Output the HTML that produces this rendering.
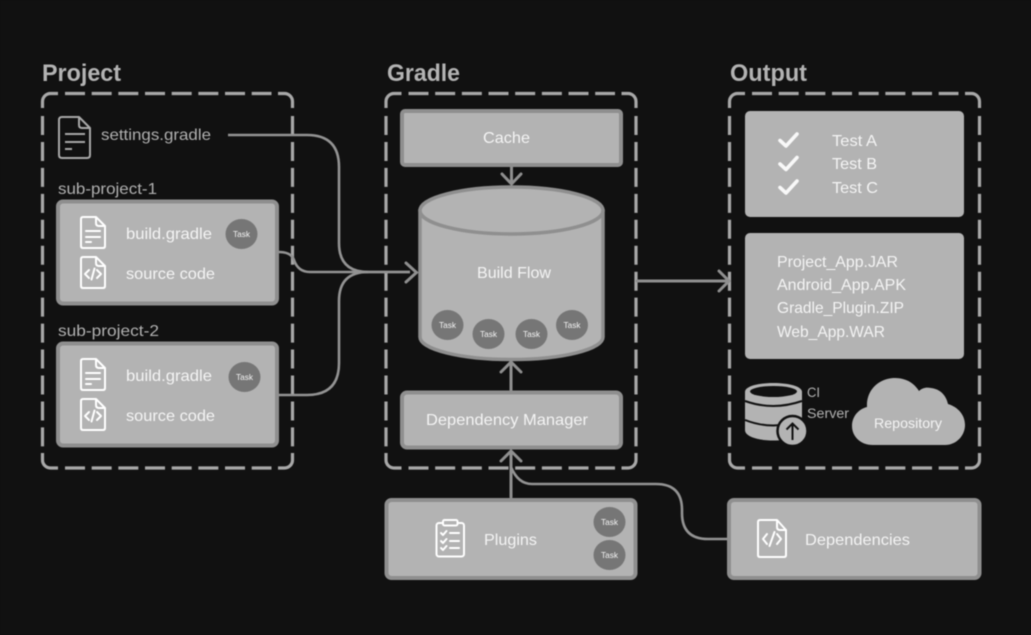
<!DOCTYPE html>
<html><head><meta charset="utf-8"><style>
html,body{margin:0;padding:0;background:#111}
svg{display:block;filter:blur(.4px)}
text{font-family:"Liberation Sans",sans-serif;font-size:16px;fill:#f4f4f4}
.g{fill:#b0b0b0}
.h{font-size:24px;font-weight:700;fill:#b3b3b3}
.t{font-size:8.5px;fill:#f4f4f4;text-anchor:middle}
.s{fill:none;stroke:#a8a8a8;stroke-width:3.2}
.dh{fill:none;stroke:#a8a8a8;stroke-width:3.2;stroke-dasharray:20 6.67}
.dv{fill:none;stroke:#a8a8a8;stroke-width:3.2;stroke-dasharray:19 6.95}
.b{fill:#b3b3b3;stroke:#8f8f8f;stroke-width:4}
.l{fill:none;stroke:#939393;stroke-width:2.6}
.a{fill:none;stroke:#8f8f8f;stroke-width:3;stroke-linecap:round}
.w{fill:none;stroke:#fff;stroke-width:2;stroke-linejoin:round;stroke-linecap:round}
.c{fill:#767676}
</style></head><body>
<svg width="1031" height="635" viewBox="0 0 1031 635" xmlns="http://www.w3.org/2000/svg">
<defs>
<g id="frame">
<path class="s" d="M0 108V101.500A8 8 0 0 1 8 93.500H15.500M235.500 93.500H242A8 8 0 0 1 250 101.500V108M0 453V460A8 8 0 0 0 8 468H15.500M235.500 468H242A8 8 0 0 0 250 460V453"/>
<path class="dh" d="M22.500 93.500H229M22.500 468H229"/>
<path class="dv" d="M0 116V447M250 116V447"/>
</g>
</defs>
<rect width="1031" height="635" fill="#111"/>

<text class="h" x="42" y="81" textLength="79" lengthAdjust="spacingAndGlyphs">Project</text>
<text class="h" x="387" y="81" textLength="73" lengthAdjust="spacingAndGlyphs">Gradle</text>
<text class="h" x="730" y="81" textLength="77" lengthAdjust="spacingAndGlyphs">Output</text>

<use href="#frame" x="42.500" y="0"/>
<use href="#frame" x="386" y="0"/>
<use href="#frame" x="729.500" y="0"/>

<!-- connectors -->
<path class="l" d="M228 135H307Q339 135 339 167V243Q339 272 368 272H410"/>
<path class="l" d="M279 252Q291 252 294 260Q298 272 310 272H410"/>
<path class="l" d="M279 395H307Q339 395 339 363V301Q339 272 368 272"/>
<path class="a" d="M406 263L416.500 272.500L406 282"/>
<path class="a" d="M637 281H728M719 271L729 281L719 291"/>
<path class="a" d="M511.500 167V183M502 174L511.500 184L521 174"/>
<path class="a" d="M511 390V364M501 372L511 362L521 372"/>
<path class="a" d="M511 497V453M501 461L511 451L521 461"/>
<path class="l" d="M727 539H708Q682 539 682 513V510Q682 484 656 484H532Q518 484 511 467"/>

<!-- project -->
<g fill="none" stroke="#a8a8a8" stroke-width="2" stroke-linejoin="round">
<path d="M62 117H79L90 128V155Q90 158 87 158H62Q59 158 59 155V120Q59 117 62 117ZM79 117V125Q79 128 82 128H90"/>
<path d="M65 134H85M65 142H85M65 149H72"/>
</g>
<text class="g" x="101" y="140" textLength="110" lengthAdjust="spacingAndGlyphs">settings.gradle</text>
<text class="g" x="58" y="194" textLength="99" lengthAdjust="spacingAndGlyphs">sub-project-1</text>
<text class="g" x="58" y="336" textLength="101" lengthAdjust="spacingAndGlyphs">sub-project-2</text>

<rect class="b" x="58" y="201.500" width="219" height="102" rx="5"/>
<rect class="b" x="58" y="343.500" width="219" height="102" rx="5"/>

<g>
<path class="w" d="M83 217H96L105 226V246Q105 248 103 248H83Q81 248 81 246V219Q81 217 83 217ZM96 217V223Q96 226 99 226H105"/>
<path class="w" d="M86 231H100M86 237H100M86 242H91"/>
<path class="w" d="M83 257H96L105 266V286Q105 288 103 288H83Q81 288 81 286V259Q81 257 83 257ZM96 257V263Q96 266 99 266H105"/>
<path class="w" d="M89 270L85 274L89 278M97 270L101 274L97 278M94.500 268.500L91.500 279.500"/>
<text x="126" y="239" textLength="86" lengthAdjust="spacingAndGlyphs">build.gradle</text>
<text x="126" y="279" textLength="89" lengthAdjust="spacingAndGlyphs">source code</text>
</g>
<g>
<path class="w" d="M83 359H96L105 368V388Q105 390 103 390H83Q81 390 81 388V361Q81 359 83 359ZM96 359V365Q96 368 99 368H105"/>
<path class="w" d="M86 373H100M86 379H100M86 384H91"/>
<path class="w" d="M83 399H96L105 408V428Q105 430 103 430H83Q81 430 81 428V401Q81 399 83 399ZM96 399V405Q96 408 99 408H105"/>
<path class="w" d="M89 412L85 416L89 420M97 412L101 416L97 420M94.500 410.500L91.500 421.500"/>
<text x="126" y="381" textLength="86" lengthAdjust="spacingAndGlyphs">build.gradle</text>
<text x="126" y="421" textLength="89" lengthAdjust="spacingAndGlyphs">source code</text>
</g>

<ellipse class="c" cx="241.500" cy="234" rx="16" ry="15"/>
<text class="t" x="241.500" y="237" textLength="17" lengthAdjust="spacingAndGlyphs">Task</text>
<ellipse class="c" cx="244.500" cy="377" rx="16" ry="15"/>
<text class="t" x="244.500" y="380" textLength="17" lengthAdjust="spacingAndGlyphs">Task</text>

<!-- gradle -->
<rect class="b" x="402" y="111" width="219" height="54" rx="3"/>
<text x="483" y="143" textLength="47" lengthAdjust="spacingAndGlyphs">Cache</text>

<path fill="#b3b3b3" stroke="#8f8f8f" stroke-width="3.500" d="M420 211V337A91.500 22.500 0 0 0 603 337V211Z"/>
<ellipse cx="511.500" cy="210.500" rx="91.500" ry="23.500" fill="#b3b3b3" stroke="#8f8f8f" stroke-width="3.500"/>
<text x="477" y="278" textLength="74" lengthAdjust="spacingAndGlyphs">Build Flow</text>
<ellipse class="c" cx="447.500" cy="325" rx="16" ry="15"/>
<text class="t" x="447.500" y="328" textLength="17" lengthAdjust="spacingAndGlyphs">Task</text>
<ellipse class="c" cx="488.500" cy="334" rx="16" ry="15"/>
<text class="t" x="488.500" y="337" textLength="17" lengthAdjust="spacingAndGlyphs">Task</text>
<ellipse class="c" cx="531.500" cy="334" rx="16" ry="15"/>
<text class="t" x="531.500" y="337" textLength="17" lengthAdjust="spacingAndGlyphs">Task</text>
<ellipse class="c" cx="572" cy="325" rx="16" ry="15"/>
<text class="t" x="572" y="328" textLength="17" lengthAdjust="spacingAndGlyphs">Task</text>

<rect class="b" x="402" y="392.500" width="219" height="55" rx="5"/>
<text x="426" y="425" textLength="162" lengthAdjust="spacingAndGlyphs">Dependency Manager</text>

<rect class="b" x="386.500" y="500" width="249" height="78" rx="5"/>
<g class="w">
<rect x="436.500" y="523" width="27.500" height="33.500" rx="2.500"/>
<rect x="443" y="520" width="14.500" height="5.500" rx="1.500" fill="#b3b3b3"/>
<path d="M441 533L443 535L446.500 531M441 541L443 543L446.500 539M441 548L443 550L446.500 546"/>
<path d="M450 533H459M450 541H459M450 548H459"/>
</g>
<text x="484" y="545" textLength="53" lengthAdjust="spacingAndGlyphs">Plugins</text>
<ellipse class="c" cx="609.500" cy="522" rx="16" ry="15"/>
<text class="t" x="609.500" y="525" textLength="17" lengthAdjust="spacingAndGlyphs">Task</text>
<ellipse class="c" cx="609.500" cy="555" rx="16" ry="15"/>
<text class="t" x="609.500" y="558" textLength="17" lengthAdjust="spacingAndGlyphs">Task</text>

<!-- dependencies -->
<rect class="b" x="729" y="500" width="250.500" height="78" rx="5"/>
<path class="w" d="M760 520H777L786 530V555Q786 557 784 557H760Q758 557 758 555V522Q758 520 760 520ZM777 520V527Q777 530 780 530H786"/>
<path class="w" d="M767 534L763 539L767 544M777 534L781 539L777 544M774.500 532L769.500 546"/>
<text x="805" y="545" textLength="105" lengthAdjust="spacingAndGlyphs">Dependencies</text>

<!-- output -->
<rect x="745" y="111" width="219" height="106" rx="5" fill="#b3b3b3"/>
<g fill="none" stroke="#f8f8f8" stroke-width="3.600" stroke-linecap="round" stroke-linejoin="round">
<path d="M780 140.500L786 146L797 134"/>
<path d="M780 164L786 169.500L797 157.500"/>
<path d="M780 187.500L786 193L797 181"/>
</g>
<text x="832" y="146" textLength="45" lengthAdjust="spacingAndGlyphs">Test A</text>
<text x="832" y="169" textLength="45" lengthAdjust="spacingAndGlyphs">Test B</text>
<text x="832" y="193" textLength="46" lengthAdjust="spacingAndGlyphs">Test C</text>

<rect x="745" y="233" width="219" height="126" rx="5" fill="#b3b3b3"/>
<text x="777" y="267" textLength="121" lengthAdjust="spacingAndGlyphs">Project_App.JAR</text>
<text x="777" y="290" textLength="129" lengthAdjust="spacingAndGlyphs">Android_App.APK</text>
<text x="777" y="313" textLength="127" lengthAdjust="spacingAndGlyphs">Gradle_Plugin.ZIP</text>
<text x="777" y="337" textLength="108" lengthAdjust="spacingAndGlyphs">Web_App.WAR</text>

<path fill="#b3b3b3" d="M745 392C745 380 802 380 802 392V430C802 444 745 444 745 430Z"/>
<path d="M745 401Q773 411 802 401M745 420Q773 431 802 420" fill="none" stroke="#111" stroke-width="2"/>
<ellipse cx="773.500" cy="391.500" rx="23.500" ry="5.500" fill="#111"/>
<circle cx="792.500" cy="431" r="15" fill="#b3b3b3" stroke="#111" stroke-width="2.500"/>
<path d="M792.500 440V424M786.500 429.500L792.500 423.500L798.500 429.500" fill="none" stroke="#111" stroke-width="2"/>
<text class="g" x="807" y="397" style="font-size:14px" textLength="13" lengthAdjust="spacingAndGlyphs">CI</text>
<text class="g" x="807" y="418" style="font-size:14px" textLength="42" lengthAdjust="spacingAndGlyphs">Server</text>

<path fill="#b3b3b3" d="M873 445C860 445 852 436 852 426C852 416 859 409 867 407C866 390 879 378 895 378C906 378 914 383 919 391C922 388 926 387 931 388C940 389 946 395 948 404C958 407 965 415 965 425C965 436 956 445 945 445Z"/>
<text x="874" y="428" style="font-size:14px" textLength="68" lengthAdjust="spacingAndGlyphs">Repository</text>
</svg>
</body></html>
